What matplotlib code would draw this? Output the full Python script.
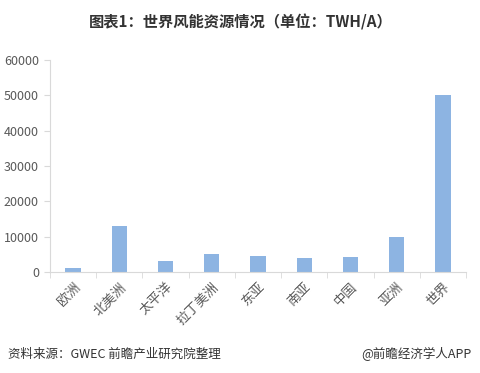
import numpy as np
import matplotlib
matplotlib.use('Agg')
from matplotlib import pyplot as plt

plt.rcParams['font.family'] = ['Noto Sans CJK SC', 'DejaVu Sans']

regions = ['欧洲', '北美洲', '太平洋', '拉丁美洲', '东亚', '南亚', '中国', '亚洲', '世界']
values = [1000, 13000, 3000, 5000, 4500, 4000, 4250, 10000, 50000]
yticks = [0, 10000, 20000, 30000, 40000, 50000, 60000]

fig = plt.figure(figsize=(4.81, 3.73), dpi=100)
ax = fig.add_axes([50 / 481, 1 - 272 / 373, 416 / 481, 212 / 373])

x = np.arange(len(regions))
ax.bar(x, values, width=0.33, color='#8db4e2', zorder=2)

ax.set_xlim(-0.5, len(regions) - 0.5)
ax.set_ylim(0, 60000)
ax.set_yticks(yticks)
ax.set_yticklabels([str(v) for v in yticks], fontsize=9, color='#595959')
ax.set_xticks(x)
ax.set_xticklabels(regions, rotation=45, ha='right', rotation_mode='anchor',
                   fontsize=9.5, color='#595959')
ax.set_xticks(np.arange(-0.5, len(regions), 1), minor=True)
ax.tick_params(axis='x', which='major', length=0, pad=6)
ax.tick_params(axis='x', which='minor', length=4, color='#d9d9d9')
ax.tick_params(axis='y', length=4, color='#d9d9d9', pad=4)

for side in ['top', 'right']:
    ax.spines[side].set_visible(False)
ax.spines['left'].set_color('#d9d9d9')
ax.spines['bottom'].set_color('#d9d9d9')

fig.text(0.5, 1 - 22 / 373, '图表1：世界风能资源情况（单位：TWH/A）', ha='center', va='center',
         fontsize=11, fontweight='bold', color='#333333')
fig.text(8 / 481, 1 - 354 / 373, '资料来源：GWEC 前瞻产业研究院整理', ha='left', va='center',
         fontsize=9, style='italic', color='#333333')
fig.text(472 / 481, 1 - 354 / 373, '@前瞻经济学人APP', ha='right', va='center',
         fontsize=9, color='#333333')

fig.savefig('out.png', dpi=100)
